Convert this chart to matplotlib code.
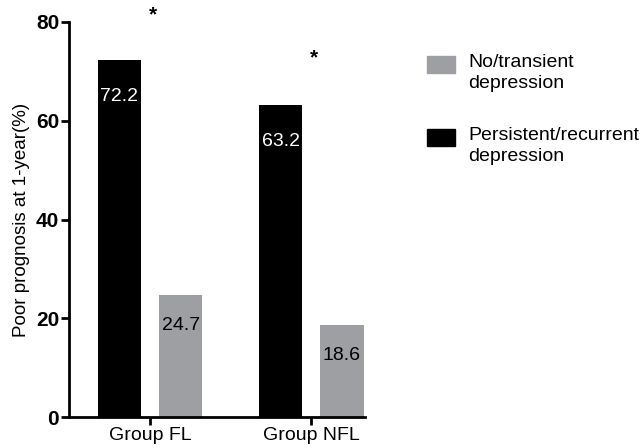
import numpy as np
import matplotlib
matplotlib.use("Agg")
import matplotlib.pyplot as plt
from matplotlib.patches import Rectangle

plt.rcParams['font.family'] = ['Liberation Sans', 'DejaVu Sans']

# Data
groups = ['Group FL', 'Group NFL']
persistent = [72.2, 63.2]
transient = [24.7, 18.6]
star_y = [81.4, 72.7]
series_names = ['No/transient\ndepression', 'Persistent/recurrent\ndepression']

gray = '#9e9fa3'
x = np.arange(len(groups))
w = 0.27
off = 0.19

fig = plt.figure(figsize=(6.44, 4.48), dpi=100)
ax = fig.add_axes([0.107, 0.069, 0.46, 0.882])

ax.bar(x - off, persistent, width=w, color='black')
ax.bar(x + off, transient, width=w, color=gray)

# value labels inside bars
for xi, v in zip(x, persistent):
    ax.text(xi - off, v - 5.6, f'{v}', ha='center', va='top', color='white', fontsize=14)
for xi, v in zip(x, transient):
    ax.text(xi + off, v - 4.5, f'{v}', ha='center', va='top', color='black', fontsize=14)

# significance stars
for xi, sy in zip(x, star_y):
    ax.text(xi + 0.02, sy, '*', ha='center', va='center', fontsize=15, fontweight='bold', clip_on=False)

ax.set_xlim(-0.503, 1.335)
ax.set_ylim(0, 80)
ax.set_yticks([0, 20, 40, 60, 80])
ax.set_xticks(x)
ax.set_xticklabels(groups, fontsize=14)
for lab in ax.get_yticklabels():
    lab.set_fontweight('bold')
    lab.set_fontsize(15)
ax.set_ylabel('Poor prognosis at 1-year(%)', fontsize=13.5, labelpad=4)

for s in ['top', 'right']:
    ax.spines[s].set_visible(False)
for s in ['left', 'bottom']:
    ax.spines[s].set_linewidth(2)
ax.tick_params(width=2, length=6, pad=1)

# legend drawn by hand so the swatch lines up with the first text line
leg_colors = [gray, 'black']
leg_y = [0.837, 0.674]
for c, yb, name in zip(leg_colors, leg_y, series_names):
    fig.add_artist(Rectangle((0.663, yb), 0.0435, 0.038, transform=fig.transFigure,
                             facecolor=c, edgecolor=c))
    fig.text(0.727, yb + 0.042, name, ha='left', va='top', fontsize=14, linespacing=1.3)

fig.savefig('out.png', dpi=100)
